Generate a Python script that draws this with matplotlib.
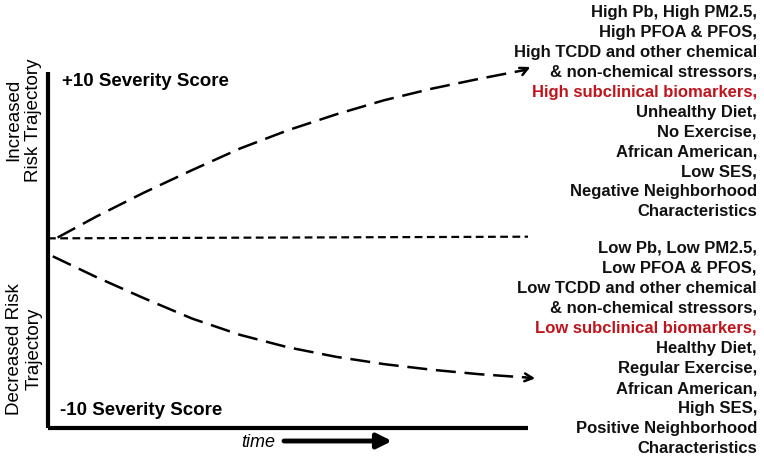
import matplotlib
matplotlib.use("Agg")
import matplotlib.pyplot as plt

plt.rcParams['font.family'] = ['Liberation Sans', 'DejaVu Sans']

# ---- data (time 0..10, severity score) ----
up_t = [0.2, 1, 2, 3, 4, 5, 6, 7, 8, 9, 9.9]
up_s = [0.05, 1.3, 2.75, 4.1, 5.4, 6.5, 7.45, 8.3, 9.0, 9.6, 10.1]
up_tip = (10.05, 10.3)

mid_t = [0, 10]
mid_s = [0.0, 0.1]

low_t = [0.1, 1, 2, 3, 4, 5, 6, 7, 8, 9, 9.95]
low_s = [-1.08, -2.32, -3.6, -4.82, -5.8, -6.55, -7.12, -7.56, -7.9, -8.17, -8.36]
low_tip = (10.15, -8.42)

high_lines = ["High Pb, High PM2.5,", "High PFOA & PFOS,",
              "High TCDD and other chemical", "& non-chemical stressors,",
              "High subclinical biomarkers,", "Unhealthy Diet,", "No Exercise,",
              "African American,", "Low SES,", "Negative Neighborhood",
              "Characteristics"]
low_lines = ["Low Pb, Low PM2.5,", "Low PFOA & PFOS,",
             "Low TCDD and other chemical", "& non-chemical stressors,",
             "Low subclinical biomarkers,", "Healthy Diet,", "Regular Exercise,",
             "African American,", "High SES,", "Positive Neighborhood",
             "Characteristics"]
red_index = 4

W, H = 764, 460
fig = plt.figure(figsize=(W / 100, H / 100), dpi=100)

# main axes: pixel box x 48..528, y 73..429
ax = fig.add_axes([48 / W, (H - 429) / H, 480 / W, 356 / H])
ax.set_xlim(0, 10)
ax.set_ylim(-11.4, 10)
for s in ['top', 'right']:
    ax.spines[s].set_visible(False)
for s in ['left', 'bottom']:
    ax.spines[s].set_linewidth(3)
    ax.spines[s].set_color('black')
    ax.spines[s].set_capstyle('butt')
ax.set_xticks([])
ax.set_yticks([])
ax.patch.set_alpha(0)

ax.plot(up_t, up_s, color='black', lw=1.8, dashes=(8, 3.5), clip_on=False)
ax.annotate('', xy=up_tip, xytext=(up_t[-1], up_s[-1]),
            arrowprops=dict(arrowstyle='->', lw=1.8, color='black',
                            mutation_scale=14, shrinkA=0, shrinkB=0),
            annotation_clip=False)
ax.plot(mid_t, mid_s, color='black', lw=1.6, dashes=(3.5, 2), clip_on=False)
ax.plot(low_t, low_s, color='black', lw=1.8, dashes=(8, 3.5), clip_on=False)
ax.annotate('', xy=low_tip, xytext=(low_t[-1], low_s[-1]),
            arrowprops=dict(arrowstyle='->', lw=1.8, color='black',
                            mutation_scale=14, shrinkA=0, shrinkB=0),
            annotation_clip=False)

# overlay axes in pixel coordinates for annotations
ov = fig.add_axes([0, 0, 1, 1])
ov.set_xlim(0, W)
ov.set_ylim(H, 0)
ov.axis('off')
ov.patch.set_alpha(0)

ov.text(62, 82, "+10 Severity Score", fontsize=13.5, fontweight='bold',
        ha='left', va='center')
ov.text(60, 411, "-10 Severity Score", fontsize=13.5, fontweight='bold',
        ha='left', va='center')

ov.text(24, 120, "Increased\nRisk Trajectory", fontsize=13.5, rotation=90,
        ha='center', va='center', multialignment='center', linespacing=1.2)
ov.text(24, 349, "Decreased Risk\nTrajectory", fontsize=13.5, rotation=90,
        ha='center', va='center', multialignment='center', linespacing=1.2)

ov.text(258, 443, "time", fontsize=13, style='italic', ha='center', va='center')
ov.annotate('', xy=(392, 442), xytext=(284, 442),
            arrowprops=dict(arrowstyle='-|>', lw=3.5, color='black',
                            mutation_scale=22, shrinkA=0, shrinkB=0))

red = '#c0141c'
for i, line in enumerate(high_lines):
    ov.text(757, 12 + 20.0 * i, line, fontsize=12, fontweight='bold',
            ha='right', va='center', color=red if i == red_index else '#111111')
for i, line in enumerate(low_lines):
    ov.text(757, 248 + 20.1 * i, line, fontsize=12, fontweight='bold',
            ha='right', va='center', color=red if i == red_index else '#111111')

fig.savefig('out.png', dpi=100)
